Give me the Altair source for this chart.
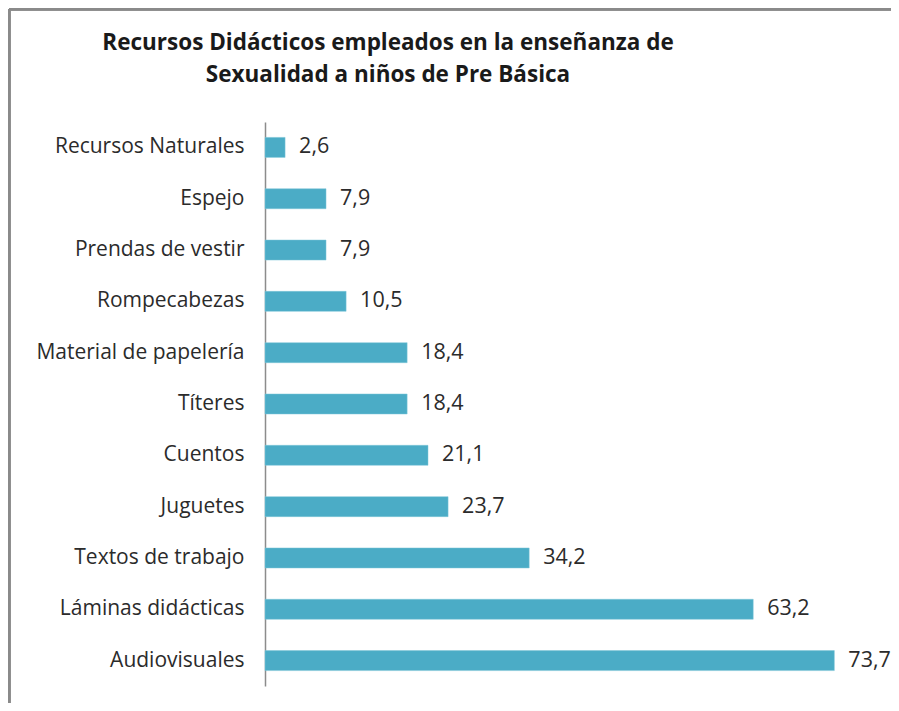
import altair as alt
import pandas as pd

categories = ["Recursos Naturales", "Espejo", "Prendas de vestir", "Rompecabezas",
              "Material de papelería", "Títeres", "Cuentos", "Juguetes",
              "Textos de trabajo", "Láminas didácticas", "Audiovisuales"]
values = [2.6, 7.9, 7.9, 10.5, 18.4, 18.4, 21.1, 23.7, 34.2, 63.2, 73.7]
title_lines = ["Recursos Didácticos empleados en la enseñanza de",
               "Sexualidad a niños de Pre Básica"]

df = pd.DataFrame({"cat": categories, "val": values,
                   "lbl": [f"{v:.1f}".replace(".", ",") for v in values]})
tdf = pd.DataFrame({"t": title_lines, "i": [0, 1]})

W, H = 618, 564
FONT = "Open Sans"

y_enc = alt.Y("cat:N", sort=categories, title=None,
              scale=alt.Scale(paddingInner=0.61, paddingOuter=0.3),
              axis=alt.Axis(domainColor="#8c8c8c", domainWidth=1.5, ticks=False,
                            labelPadding=21, labelFontSize=21, labelFont=FONT,
                            labelLimit=400,
                            labelColor="#2b2b2b", labelFontWeight="normal"))
x_enc = alt.X("val:Q", scale=alt.Scale(domain=[0, 80]), axis=None)

bars = alt.Chart(df).mark_bar(color="#4BACC6", stroke="#7fc6d8", strokeWidth=0.5).encode(
    y=y_enc, x=x_enc)
labels = alt.Chart(df).mark_text(align="left", dx=14, fontSize=21.5, font=FONT,
                                 color="#2b2b2b").encode(y=y_enc, x=x_enc, text="lbl:N")

title1 = alt.Chart(tdf).transform_filter("datum.i == 0").mark_text(
    align="center", baseline="middle", fontSize=22.5, font=FONT, fontWeight="bold",
    color="#1a1a1a").encode(x=alt.value(123), y=alt.value(-79), text="t:N")
title2 = alt.Chart(tdf).transform_filter("datum.i == 1").mark_text(
    align="center", baseline="middle", fontSize=22.5, font=FONT, fontWeight="bold",
    color="#1a1a1a").encode(x=alt.value(123), y=alt.value(-47), text="t:N")

border_left = alt.Chart(df).mark_rule(color="#8a8a8a", strokeWidth=2.5).encode(
    x=alt.value(-256), y=alt.value(-113), y2=alt.value(H + 20))
border_top = alt.Chart(df).mark_rule(color="#8a8a8a", strokeWidth=2.5).encode(
    y=alt.value(-113), x=alt.value(-256), x2=alt.value(W + 10))

chart = alt.layer(border_left, border_top, bars, labels, title1, title2).properties(
    width=W, height=H,
    autosize=alt.AutoSizeParams(type="none"),
    padding={"left": 257, "top": 114, "right": 8, "bottom": 17},
).configure_view(stroke=None)

chart.save("out.html", embed_options={"renderer": "svg", "actions": False})
